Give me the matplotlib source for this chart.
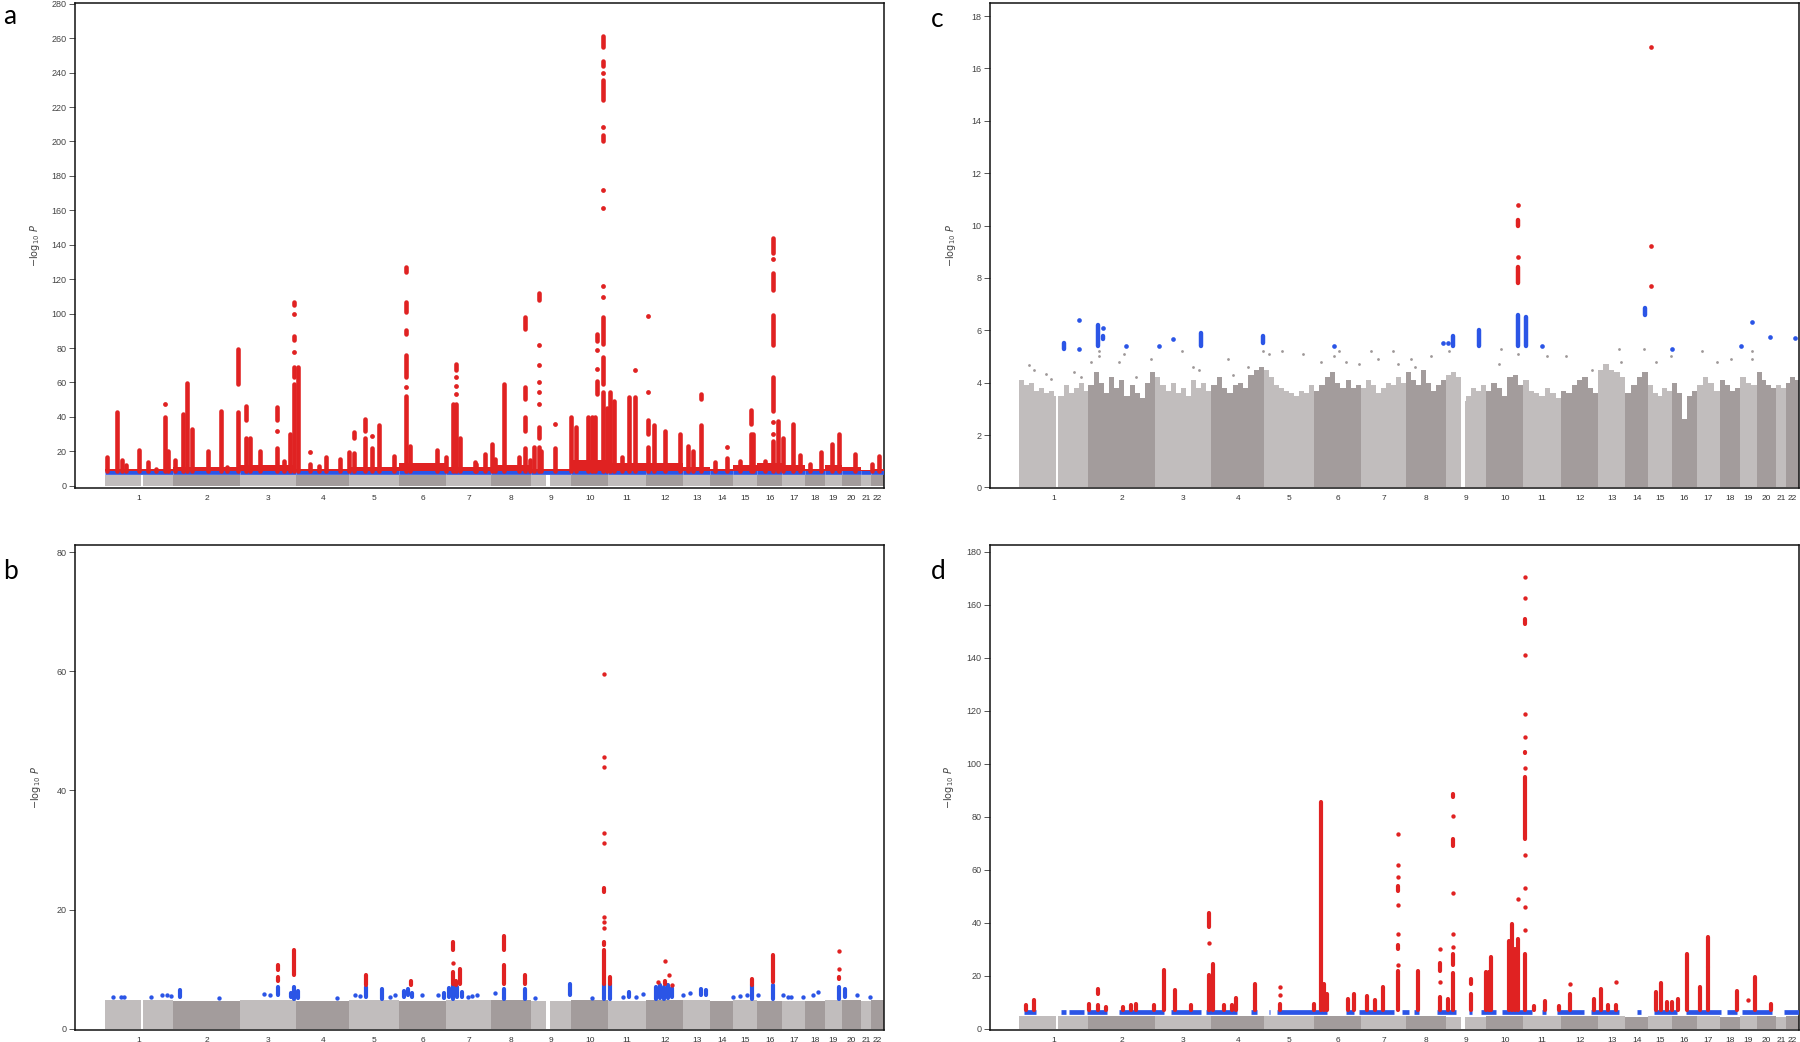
import numpy as np
import matplotlib
matplotlib.use("Agg")
import matplotlib.pyplot as plt

plt.rcParams["font.family"] = ["Liberation Sans", "DejaVu Sans"]

# chromosome layout: widths on the plot position axis
chrom_labels = [str(i) for i in range(1, 23)]
chrom_width = [69, 67, 56, 53, 50, 47, 45, 40, 40, 37, 38, 37, 27, 23, 24, 25, 23, 20, 17, 19, 10, 13]
# centromere gaps (position, width)
gap_pos = [37.5, 444.0]
gap_width = [1.5, 4.0]

# ---- panel a ----
a_yticks = list(range(0, 281, 20))
a_grey = [6.3] * 22
a_blue_y = 7.8
a_red_floor = [10, 11, 12, 10, 11, 13, 11, 12, 10, 15, 13, 13, 11, 10, 12, 13, 12, 10, 12, 11, 9, 10]
a_red_cols = [(2.7, 16.5), (12.7, 42.7), (17.0, 15.0), (21.0, 12.0), (34.3, 21.0), (43.0, 13.6), (51.0, 10.0),
              (61.0, 40.0), (64.0, 20.0), (71.0, 15.0), (78.7, 41.7), (82.7, 59.6), (87.7, 33.0), (104.0, 20.4),
              (116.7, 43.3), (122.7, 10.7), (133.7, 43.0), (141.7, 28.0), (146.0, 28.0), (156.0, 20.4),
              (172.7, 22.0), (179.3, 14.6), (186.0, 30.0), (190.0, 59.0), (194.0, 69.0), (206.0, 12.6),
              (214.3, 11.6), (222.0, 16.5), (236.0, 15.5), (244.3, 19.4), (250.0, 19.0), (261.0, 28.0),
              (267.7, 22.0), (275.0, 35.5), (289.3, 17.5), (302.0, 52.4), (306.0, 23.0), (332.7, 21.0),
              (341.7, 16.5), (349.0, 47.6), (351.7, 47.6), (356.0, 28.0), (372.0, 12.6), (380.3, 18.4),
              (371.0, 13.6), (387.7, 24.0), (391.0, 15.5), (399.3, 59.2), (414.3, 16.5), (421.0, 22.0),
              (426.0, 15.0), (429.3, 22.3), (434.3, 22.3), (437.0, 20.0), (451.0, 22.0), (467.0, 39.8),
              (472.0, 34.0), (484.0, 40.0), (487.7, 40.0), (491.0, 40.0), (499.3, 54.4), (503.0, 45.0),
              (506.0, 54.4), (510.0, 49.5), (517.7, 16.5), (525.3, 51.5), (531.0, 51.5), (543.7, 22.3),
              (550.3, 35.0), (561.0, 32.0), (576.0, 30.0), (584.3, 23.0), (588.7, 20.0), (596.7, 35.0),
              (611.0, 13.6), (622.7, 16.0), (636.0, 14.6), (646.7, 30.0), (649.3, 30.0), (661.0, 14.6),
              (668.7, 26.0), (674.3, 37.5), (679.3, 28.0), (688.7, 36.0), (696.0, 18.0), (706.0, 12.6),
              (716.7, 19.4), (727.7, 24.0), (735.3, 30.0), (751.0, 18.4), (767.7, 12.6), (775.3, 17.5)]
a_red_pts = [(61.0, 47.6), (133.7, 59.0, 79.6), (141.7, 38.0, 46.6), (172.7, 38.0, 46.0), (172.7, 32.0),
             (190.0, 63.0, 69.0), (190.0, 77.7), (190.0, 84.5, 87.0), (190.0, 100.0), (190.0, 104.9, 106.8),
             (206.0, 19.4), (250.0, 28.0, 31.0), (261.0, 32.0, 39.0), (267.7, 29.0), (302.0, 57.3),
             (302.0, 63.0, 75.7), (302.0, 88.3, 90.3), (302.0, 101.0, 106.8), (302.0, 124.3, 127.0),
             (351.7, 53.4), (351.7, 58.0), (351.7, 63.0), (351.7, 67.0, 71.0), (421.0, 32.0, 39.8),
             (421.0, 50.5, 57.3), (421.0, 91.0, 98.0), (434.3, 28.0, 34.0), (434.3, 47.6), (434.3, 54.4),
             (434.3, 60.0), (434.3, 70.0), (434.3, 81.5), (434.3, 107.8, 111.7), (451.0, 36.0),
             (493.3, 53.4, 61.0), (493.3, 68.0), (493.3, 78.6), (493.3, 84.0, 88.0), (499.3, 59.2, 74.8),
             (499.3, 82.5, 98.0), (499.3, 109.7), (499.3, 116.0), (499.3, 161.2), (499.3, 171.8),
             (499.3, 200.0, 203.9), (499.3, 208.7), (499.3, 224.3, 236.0), (499.3, 239.8),
             (499.3, 243.7, 246.6), (499.3, 255.0, 261.0), (531.0, 67.0), (543.7, 30.0, 38.0), (543.7, 54.4),
             (543.7, 98.4), (596.7, 50.5, 53.4), (622.7, 22.3), (646.7, 36.0, 44.0), (668.7, 30.0),
             (668.7, 37.0), (668.7, 43.7, 63.0), (668.7, 81.5, 99.0), (668.7, 113.6, 123.3), (668.7, 132.0),
             (668.7, 135.0, 143.7)]

# ---- panel b ----
b_yticks = [0, 20, 40, 60, 80]
b_grey = [4.9, 4.7, 4.8, 4.6, 4.8, 4.7, 4.9, 4.8, 4.7, 4.8, 4.7, 4.9, 4.8, 4.6, 4.8, 4.7, 4.6, 4.7, 4.8, 4.9, 4.6, 4.8]
b_blue = [(8.7, 5.3), (16.0, 5.3), (19.3, 5.3), (46.0, 5.4), (57.7, 5.6), (62.7, 5.6), (66.7, 5.5),
          (76.0, 5.3, 6.5), (114.3, 5.1), (159.3, 5.9), (166.0, 5.7), (173.3, 5.7, 7.0), (187.0, 5.3, 6.0),
          (190.0, 5.0, 7.0), (194.0, 5.2, 6.4), (232.7, 5.1), (251.0, 5.6), (256.0, 5.5), (262.0, 5.3, 7.0),
          (277.7, 5.0, 6.7), (286.0, 5.3), (291.0, 5.6), (300.0, 5.4, 6.3), (304.0, 5.6, 6.7),
          (308.0, 5.3, 6.0), (317.7, 5.6), (334.0, 5.6), (340.0, 5.2, 6.0), (345.0, 5.3, 6.8),
          (349.0, 5.0, 7.3), (353.0, 5.3, 7.0), (358.0, 5.3, 6.2), (364.0, 5.3), (368.0, 5.5), (372.7, 5.6),
          (391.0, 6.0), (399.3, 5.0, 6.7), (421.0, 5.0, 6.7), (431.0, 5.1), (466.0, 5.6, 7.6), (487.7, 5.1),
          (500.0, 5.0, 7.6), (506.0, 5.0, 7.6), (519.3, 5.3), (525.3, 5.3, 6.2), (531.7, 5.3), (539.3, 5.9),
          (552.0, 5.0, 7.0), (556.0, 5.2, 7.3), (560.0, 5.0, 7.0), (564.0, 5.2, 7.3), (568.0, 5.3, 6.8),
          (579.3, 5.6), (586.0, 6.0), (597.0, 5.6, 6.7), (602.0, 5.6, 6.5), (629.3, 5.3), (636.0, 5.5),
          (642.7, 5.6), (647.7, 5.0, 7.3), (654.0, 5.6), (668.7, 5.0, 7.3), (679.3, 5.6), (684.0, 5.3),
          (687.3, 5.3), (699.3, 5.3), (709.3, 5.6), (714.3, 6.2), (735.0, 5.0, 7.0), (741.0, 5.3, 6.7),
          (752.7, 5.6), (766.0, 5.3)]
b_red = [(173.3, 9.9, 10.7), (173.3, 8.1, 8.7), (190.0, 9.0, 13.2), (262.0, 7.3, 9.0), (307.0, 7.3, 8.1),
         (348.3, 13.2, 14.6), (348.3, 11.0), (348.3, 7.6, 9.5), (356.0, 7.6, 10.0), (352.0, 7.3, 8.0),
         (399.3, 13.2, 15.5), (399.3, 7.6, 10.7), (421.0, 7.6, 9.0), (500.0, 59.6), (500.0, 45.6),
         (500.0, 43.9), (500.0, 32.9), (500.0, 31.2), (500.0, 23.0, 23.6), (500.0, 18.8), (500.0, 18.0),
         (500.0, 16.9), (500.0, 14.0, 14.6), (500.0, 7.6, 13.2), (506.0, 7.6, 8.7), (554.0, 7.9),
         (561.0, 11.3), (561.0, 7.6, 8.1), (565.0, 9.1), (567.7, 7.3), (647.7, 7.3, 8.4), (668.7, 7.9, 12.4),
         (735.0, 13.0), (735.0, 10.1), (735.0, 8.4, 8.7)]

# ---- panel c ----
c_yticks = list(range(0, 19, 2))
c_grey = [[4.1, 3.9, 4.0, 3.7, 3.8, 3.6, 3.7, 3.5, 3.5, 3.9, 3.6, 3.8, 4.0, 3.7],
          [3.9, 4.4, 4.0, 3.6, 4.2, 3.8, 4.1, 3.5, 3.9, 3.6, 3.4, 4.0, 4.4],
          [4.2, 3.9, 3.7, 4.0, 3.6, 3.8, 3.5, 4.1, 3.8, 4.0, 3.7],
          [3.9, 4.2, 3.8, 3.6, 3.9, 4.0, 3.8, 4.3, 4.5, 4.6],
          [4.5, 4.2, 3.9, 3.8, 3.7, 3.6, 3.5, 3.7, 3.6, 3.9],
          [3.7, 3.9, 4.2, 4.4, 4.0, 3.8, 4.1, 3.8, 3.9],
          [3.8, 4.1, 3.9, 3.6, 3.8, 4.0, 3.9, 4.2, 4.0],
          [4.4, 4.1, 3.9, 4.5, 4.0, 3.7, 3.9, 4.1],
          [4.3, 4.4, 4.2, 3.3, 3.5, 3.8, 3.7, 3.9],
          [3.7, 4.0, 3.8, 3.5, 4.2, 4.3, 3.9],
          [4.1, 3.7, 3.6, 3.5, 3.8, 3.6, 3.4],
          [3.7, 3.6, 3.9, 4.1, 4.2, 3.8, 3.6],
          [4.5, 4.7, 4.5, 4.4, 4.2],
          [3.6, 3.9, 4.2, 4.4],
          [3.9, 3.6, 3.5, 3.8, 3.7],
          [4.0, 3.6, 2.6, 3.5, 3.7],
          [3.9, 4.2, 4.0, 3.7],
          [4.1, 3.9, 3.7, 3.8],
          [4.2, 4.0, 3.9],
          [4.4, 4.1, 3.9, 3.8],
          [3.9, 3.8],
          [4.0, 4.2, 4.1]]
c_grey_dots = [(10.0, 4.67), (15.0, 4.5), (26.7, 4.35), (31.7, 4.15), (55.0, 4.4), (61.7, 4.2), (71.7, 4.8),
               (80.0, 5.2), (80.0, 5.0), (100.0, 4.8), (105.0, 5.1), (117.0, 4.2), (131.7, 4.9), (162.7, 5.2),
               (173.3, 4.6), (180.0, 4.5), (208.3, 4.9), (213.3, 4.3), (228.3, 4.6), (243.3, 5.2),
               (249.3, 5.1), (262.7, 5.2), (283.3, 5.1), (301.7, 4.8), (314.3, 5.0), (320.0, 5.2),
               (326.7, 4.8), (339.3, 4.7), (351.7, 5.2), (358.3, 4.9), (373.3, 5.2), (378.3, 4.7),
               (391.7, 4.9), (396.0, 4.6), (411.7, 5.0), (430.0, 5.2), (481.7, 5.3), (480.0, 4.7),
               (499.3, 5.1), (528.3, 5.0), (546.7, 5.0), (572.7, 4.5), (600.0, 5.3), (601.7, 4.8),
               (625.0, 5.3), (636.7, 4.8), (651.7, 5.0), (683.3, 5.2), (698.3, 4.8), (711.7, 4.9),
               (733.3, 5.2), (733.3, 4.9)]
c_blue = [(45.0, 5.3, 5.5), (60.0, 6.4), (60.0, 5.3), (79.0, 5.4, 6.2), (83.3, 6.1), (83.3, 5.65, 5.8),
          (106.7, 5.4), (140.0, 5.4), (154.0, 5.65), (181.7, 5.4, 5.9), (243.3, 5.5, 5.8), (314.3, 5.4),
          (424.0, 5.5), (429.3, 5.5), (434.0, 5.4, 5.8), (460.0, 5.4, 6.0), (499.3, 5.4, 6.6),
          (506.7, 5.4, 6.5), (523.3, 5.4), (625.7, 6.6, 6.85), (653.3, 5.3), (722.3, 5.4), (733.3, 6.3),
          (751.0, 5.75), (775.7, 5.7)]
c_red = [(499.3, 10.8), (499.3, 10.0, 10.2), (499.3, 8.8), (499.3, 7.8, 8.4), (632.0, 16.8), (632.0, 9.2),
         (632.0, 7.7)]

# ---- panel d ----
d_yticks = list(range(0, 181, 20))
d_grey = [5.0, 4.9, 4.8, 4.9, 4.8, 4.7, 4.8, 4.9, 4.6, 4.8, 4.7, 4.8, 4.9, 4.6, 4.7, 4.8, 4.7, 4.6, 4.8, 4.7, 4.5, 4.7]
d_blue_y = 6.4
d_blue_runs = [(5, 16.7), (41.7, 46.7), (50, 65), (68, 88), (100, 145), (152, 182), (187, 218), (232, 238),
               (250, 251), (258, 308), (327, 335), (340, 375), (383, 390), (395, 400), (418, 437), (450, 453),
               (462, 477), (483, 513), (523, 527), (538, 565), (572, 600), (618, 622), (635, 658), (667, 702),
               (708, 718), (723, 753), (765, 780)]
d_red_cols = [(6.7, 8.9), (15.0, 11.0), (70.0, 9.5), (78.3, 8.9), (86.7, 8.3), (103.3, 8.3), (111.7, 8.9),
              (116.7, 9.5), (135.0, 8.9), (144.3, 22.4), (155.7, 14.6), (171.7, 8.9), (189.3, 20.2),
              (193.3, 24.6), (205.0, 8.9), (212.3, 8.9), (216.7, 11.8), (235.7, 17.0), (261.0, 9.5),
              (295.0, 9.5), (301.7, 85.5), (305.0, 17.0), (307.7, 13.3), (328.3, 11.4), (334.3, 13.3),
              (347.7, 12.3), (355.7, 11.0), (363.3, 15.8), (379.0, 22.0), (399.0, 22.0), (421.0, 12.0),
              (429.0, 11.4), (434.3, 21.0), (451.7, 13.3), (467.0, 21.5), (470.0, 21.5), (472.0, 27.0),
              (490.0, 33.0), (493.3, 39.7), (496.0, 30.0), (499.3, 34.0), (506.0, 28.4), (515.0, 8.5),
              (525.7, 10.4), (540.0, 8.5), (551.0, 13.3), (575.0, 11.4), (582.3, 15.2), (589.0, 8.9),
              (596.7, 8.9), (636.7, 14.0), (642.3, 17.3), (648.0, 10.2), (653.0, 10.2), (659.3, 11.4),
              (668.3, 28.4), (680.7, 15.8), (689.3, 23.4), (717.7, 14.3), (736.0, 19.6), (751.7, 9.5)]
d_red_pts = [(78.3, 13.3, 15.2), (189.3, 38.4, 43.7), (189.3, 32.5), (261.0, 12.7), (261.0, 16.0),
             (379.0, 24.0), (379.0, 30.3, 31.5), (379.0, 36.0), (379.0, 46.6), (379.0, 52.0, 54.0),
             (379.0, 57.3), (379.0, 62.0), (379.0, 73.6), (421.0, 17.7), (421.0, 22.0, 25.0), (421.0, 30.0),
             (434.3, 24.0, 28.4), (434.3, 31.0), (434.3, 36.0), (434.3, 51.3), (434.3, 69.2, 71.7),
             (434.3, 80.5), (434.3, 87.4, 88.7), (451.7, 17.0, 19.0), (499.3, 49.0), (506.0, 37.2),
             (506.0, 46.0), (506.0, 53.3), (506.0, 65.5), (506.0, 71.7, 95.0), (506.0, 98.4),
             (506.0, 104.0, 104.6), (506.0, 110.0), (506.0, 119.0), (506.0, 141.0), (506.0, 152.8, 154.6),
             (506.0, 162.6), (506.0, 170.4), (551.0, 16.8), (596.7, 17.7), (689.3, 23.4, 34.7), (729.3, 11.0)]

# colours
GREY_LIGHT = "#c1bdbd"
GREY_DARK = "#a39c9c"
RED = "#e02222"
BLUE = "#2b55e6"
DOT_LW = 3.0

starts = np.concatenate([[0], np.cumsum(chrom_width)[:-1]])
ends = starts + np.array(chrom_width)
mids = starts + np.array(chrom_width) / 2


def draw_grey(ax, heights):
    for i in range(len(chrom_width)):
        h = np.atleast_1d(heights[i]).astype(float)
        edges = np.linspace(starts[i], ends[i], len(h) + 1)
        col = GREY_LIGHT if i % 2 == 0 else GREY_DARK
        ax.stairs(h, edges, fill=True, color=col, lw=0, zorder=1)


def draw_gaps(ax, top):
    ax.bar(gap_pos, [top] * len(gap_pos), width=gap_width, color="white", lw=0, zorder=2.5)


def draw_marks(ax, pts, color, lw=DOT_LW, zorder=4, base=None):
    # (x, y) -> single dot, (x, lo, hi) -> run of dots; with base: (x, top) column from base
    segs = []
    dots = []
    for p in pts:
        if base is not None:
            segs.append((p[0], base, p[1]))
        elif len(p) == 3 and p[2] > p[1]:
            segs.append(p)
        else:
            dots.append((p[0], p[1]))
    if segs:
        x, lo, hi = zip(*segs)
        lc = ax.vlines(x, lo, hi, colors=color, linewidth=lw, zorder=zorder)
        lc.set_capstyle("round")
    if dots:
        x, y = zip(*dots)
        ax.scatter(x, y, s=lw ** 2 * 1.1, color=color, lw=0, zorder=zorder)


def style(ax, yticks, ylim, label_x):
    ax.set_xlim(-29.5, 780)
    ax.set_ylim(*ylim)
    ax.set_yticks(yticks)
    ax.set_xticks(mids)
    ax.set_xticklabels(chrom_labels)
    ax.tick_params(axis="y", length=4, width=0.7, color="#555555", labelsize=6.5,
                   labelcolor="#444444", pad=2)
    ax.tick_params(axis="x", length=0, labelsize=6, labelcolor="#333333", pad=5)
    for s in ax.spines.values():
        s.set_linewidth(1.1)
        s.set_color("#111111")
    ax.set_ylabel(r"$-\log_{10}\,P$", fontsize=7, color="#444444")
    ax.yaxis.set_label_coords(label_x, 0.5)


fig = plt.figure(figsize=(18, 10.42), dpi=100)
ax_a = fig.add_axes([0.0417, 0.5317, 0.4494, 0.4655])
ax_b = fig.add_axes([0.0417, 0.0115, 0.4494, 0.4655])
ax_c = fig.add_axes([0.5500, 0.5317, 0.4494, 0.4655])
ax_d = fig.add_axes([0.5500, 0.0115, 0.4494, 0.4655])

# a
draw_grey(ax_a, a_grey)
ax_a.hlines([a_blue_y] * 22, starts, ends, colors=BLUE, linewidth=3.4, zorder=3)
draw_gaps(ax_a, a_blue_y + 1.5)
ax_a.stairs(a_red_floor, np.append(starts, ends[-1]), baseline=a_blue_y + 1.0, fill=True,
            color=RED, lw=0, zorder=3.5)
draw_marks(ax_a, a_red_cols, RED, lw=3.3, base=a_blue_y + 1.0)
draw_marks(ax_a, a_red_pts, RED, lw=3.3)
style(ax_a, a_yticks, (-1.3, 280.5), -0.041)

# b
draw_grey(ax_b, b_grey)
draw_gaps(ax_b, 5.0)
draw_marks(ax_b, b_blue, BLUE, zorder=3)
draw_marks(ax_b, b_red, RED)
style(ax_b, b_yticks, (-0.2, 81.2), -0.04)

# c
draw_grey(ax_c, c_grey)
cx, cy = zip(*c_grey_dots)
ax_c.scatter(cx, cy, s=4, color="#9e9898", lw=0, zorder=1.5)
draw_gaps(ax_c, 4.5)
draw_marks(ax_c, c_blue, BLUE, lw=3.2, zorder=3)
draw_marks(ax_c, c_red, RED, lw=3.2)
style(ax_c, c_yticks, (-0.02, 18.5), -0.04)

# d
draw_grey(ax_d, d_grey)
x0, x1 = zip(*d_blue_runs)
ax_d.hlines([d_blue_y] * len(x0), x0, x1, colors=BLUE, linewidth=3.4, zorder=3)
draw_gaps(ax_d, 5.0)
draw_marks(ax_d, d_red_cols, RED, base=d_blue_y + 0.8)
draw_marks(ax_d, d_red_pts, RED)
style(ax_d, d_yticks, (-0.4, 182.6), -0.042)

# panel letters
for letter, (x, y) in zip("abcd", [(0.002, 0.984), (0.002, 0.452), (0.517, 0.981), (0.517, 0.452)]):
    fig.text(x, y, letter, fontsize=19, family=["Lato", "DejaVu Sans"], va="center", ha="left")

fig.savefig("out.png", dpi=100, facecolor="white")
